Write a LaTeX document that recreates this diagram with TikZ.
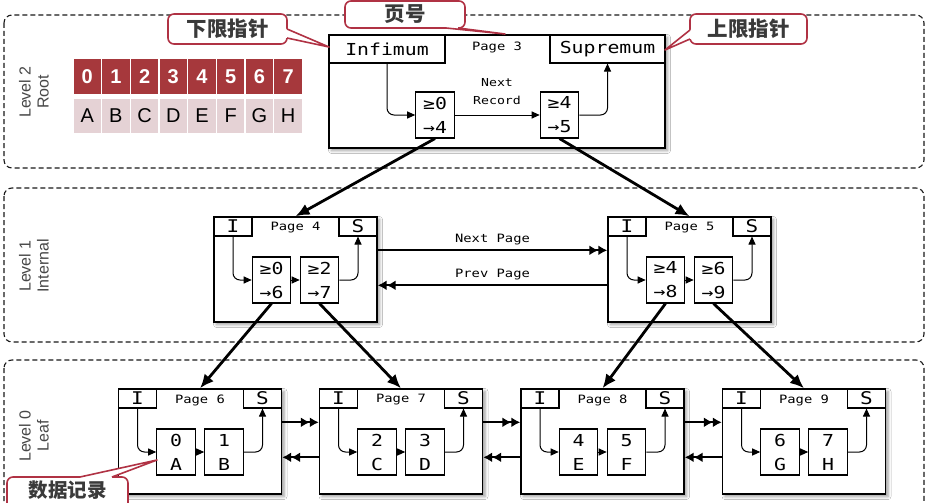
\documentclass[tikz,border=0pt]{standalone}
\usepackage{fontspec}
\setmainfont{Liberation Sans}
\newfontfamily\monof[FakeStretch=1.2]{DejaVu Sans Mono}
\newfontfamily\sansf{Liberation Sans}
\newfontfamily\cjkf{Noto Sans CJK SC}
\usetikzlibrary{arrows.meta,shadows.blur,calc}
\definecolor{calred}{RGB}{176,50,68}
\definecolor{arrred}{RGB}{166,56,60}
\definecolor{arrpink}{RGB}{229,210,213}
\definecolor{txtgrey}{RGB}{58,58,58}

\newcommand{\bpage}[6]{%
  \node[pagebox, minimum width=163pt, minimum height=105pt] (#1) at (#2,#3+52.5) {};
  \node[hdcell] (#1I) at (#2-62.5,#3+9.5) {I};
  \node[hdcell] (#1S) at (#2+62.5,#3+9.5) {S};
  \node[ptitle] (#1t) at (#2,#3+11) {#4};
  \node[recbox] (#1a) at (#2-24,#3+63) {#5};
  \node[recbox] (#1b) at (#2+24,#3+63) {#6};
  \draw[inarrow] (#1I.south) |- (#1a.west);
  \draw[inarrow] (#1a.east) -- (#1b.west);
  \draw[inarrow] (#1b.east) -| (#1S.south);
}

\begin{document}
\begin{tikzpicture}[x=1pt,y=-1pt,
  levelbox/.style={draw=black!90, line width=1.1pt, dash pattern=on 5pt off 3pt, rounded corners=8pt},
  pagebox/.style={draw, line width=1.4pt, fill=white, inner sep=0pt,
    blur shadow={shadow xshift=2.5pt,shadow yshift=-2.5pt,shadow blur radius=3pt,shadow opacity=40}},
  hdcell/.style={draw, line width=1.1pt, fill=white, inner sep=0pt, minimum width=38pt, minimum height=19pt,
    font=\monof\fontsize{17.5}{17}\selectfont},
  recbox/.style={draw, line width=1.1pt, fill=white, inner sep=0pt, minimum width=38.5pt, minimum height=46pt,
    align=center, font=\monof\fontsize{16.5}{24}\selectfont},
  ptitle/.style={font=\monof\fontsize{11.5}{12}\selectfont, inner sep=0pt},
  inarrow/.style={line width=1pt, -{Triangle[length=8pt,width=7pt]}, rounded corners=7pt},
  treearrow/.style={line width=2.8pt, -{Latex[length=14pt,width=12pt]}},
  pagelink/.style={line width=2.2pt, -{Latex[length=9pt,width=10pt]Latex[length=9pt,width=10pt]}},
  lvltext/.style={rotate=90, align=center, font=\sansf\fontsize{16}{18}\selectfont, text=black!72},
  calloutbox/.style={draw=calred, line width=1.6pt, fill=white, rounded corners=6pt, inner sep=0pt,
    font=\cjkf\bfseries\fontsize{20.5}{20}\selectfont, text=txtgrey},
  tailline/.style={draw=calred, line width=1.6pt, line join=round},
  numcell/.style={fill=arrred, minimum width=27.3pt, minimum height=35pt, inner sep=0pt, text=white,
    font=\sansf\bfseries\fontsize{20}{20}\selectfont},
  letcell/.style={fill=arrpink, minimum width=27.3pt, minimum height=34pt, inner sep=0pt,
    font=\sansf\fontsize{20}{20}\selectfont},
]
\useasboundingbox (0,0) rectangle (929,503);
\fill[white] (0,0) rectangle (929,503);

% level frames
\draw[levelbox] (4,15) rectangle (924,168);
\draw[levelbox] (4,188) rectangle (924,342);
\draw[levelbox] (4,360) rectangle (924,530);

\node[lvltext] (l2) at (34,92) {Level 2\\Root};
\node[lvltext] (l1) at (34,266) {Level 1\\Internal};
\node[lvltext] (l0) at (34,436) {Level 0\\Leaf};

% array
\foreach \i/\l in {0/A,1/B,2/C,3/D,4/E,5/F,6/G,7/H} {
  \node[numcell] (n\i) at (87.2+28.7*\i,76.5) {\i};
  \node[letcell] (c\i) at (87.2+28.7*\i,116) {\l};
}

% page 3 (root)
\node[pagebox, minimum width=336pt, minimum height=113pt] (p3) at (497,91.5) {};
\node[hdcell, minimum width=116pt, minimum height=28pt, font=\monof\fontsize{16.5}{17}\selectfont] (inf) at (387,49) {Infimum};
\node[hdcell, minimum width=115pt, minimum height=28pt, font=\monof\fontsize{16.5}{17}\selectfont] (sup) at (607.5,49) {Supremum};
\node[ptitle] (p3t) at (497,47) {Page 3};
\node[recbox] (r1) at (435,115) {≥0\\→4};
\node[recbox] (r2) at (559.5,115) {≥4\\→5};
\node[ptitle, align=center, font=\monof\fontsize{11}{18}\selectfont] (nr) at (497,92) {Next\\Record};
\draw[inarrow] (inf.south) |- (r1.west);
\draw[inarrow] (r1.east) -- (r2.west);
\draw[inarrow] (r2.east) -| (sup.south);

% level 1
\bpage{p4}{295.5}{217}{Page 4}{≥0\\→6}{≥2\\→7}
\bpage{p5}{689.5}{217}{Page 5}{≥4\\→8}{≥6\\→9}

% level 0
\bpage{p6}{200}{389}{Page 6}{0\\A}{1\\B}
\bpage{p7}{401}{389}{Page 7}{2\\C}{3\\D}
\bpage{p8}{602.5}{389}{Page 8}{4\\E}{5\\F}
\bpage{p9}{804}{389}{Page 9}{6\\G}{7\\H}

% tree pointers
\draw[treearrow] (r1.south) -- (p4.north);
\draw[treearrow] (r2.south) -- (p5.north);
\draw[treearrow] (p4a.south) -- (p6.north);
\draw[treearrow] (p4b.south) -- (p7.north);
\draw[treearrow] (p5a.south) -- (p8.north);
\draw[treearrow] (p5b.south) -- (p9.north);

% sibling links
\draw[pagelink] ([yshift=-34pt]p4.north east) -- ([yshift=-34pt]p5.north west)
  node[pos=0.5, above=4pt, ptitle] (np) {Next Page};
\draw[pagelink] ([yshift=-69pt]p5.north west) -- ([yshift=-69pt]p4.north east)
  node[pos=0.5, above=4pt, ptitle] (pp) {Prev Page};
\foreach \a/\b in {p6/p7,p7/p8,p8/p9} {
  \draw[pagelink] ([yshift=-34pt]\a.north east) -- ([yshift=-34pt]\b.north west);
  \draw[pagelink] ([yshift=-69pt]\b.north west) -- ([yshift=-69pt]\a.north east);
}

% callouts
\node[calloutbox, minimum width=119pt, minimum height=30pt] (c1) at (227.5,29) {下限指针};
\fill[white] (284,29) -- (287,29) -- (329,47) -- (287,38) -- (284,38) -- cycle;
\draw[tailline] (287,29) -- (329,47) -- (287,38);

\node[calloutbox, minimum width=120pt, minimum height=27pt] (c2) at (405,14.5) {页号};
\fill[white] (446,25) -- (446,28) -- (505,34) -- (458,28) -- (458,25) -- cycle;
\draw[tailline] (446,28) -- (505,34) -- (458,28);

\node[calloutbox, minimum width=117pt, minimum height=30pt] (c3) at (748.5,29) {上限指针};
\fill[white] (693,30) -- (690,30) -- (665,50) -- (690,39) -- (693,39) -- cycle;
\draw[tailline] (690,30) -- (665,50) -- (690,39);

\node[calloutbox, minimum width=121pt, minimum height=40pt] (c4) at (67.5,497) {};
\node[font=\cjkf\bfseries\fontsize{19.5}{20}\selectfont, text=txtgrey, inner sep=0pt] (c4t) at (67.5,490.5) {数据记录};
\fill[white] (80,480) -- (80,477) -- (157,460) -- (112,477) -- (112,480) -- cycle;
\draw[tailline] (80,477) -- (157,460) -- (112,477);
\end{tikzpicture}
\end{document}
